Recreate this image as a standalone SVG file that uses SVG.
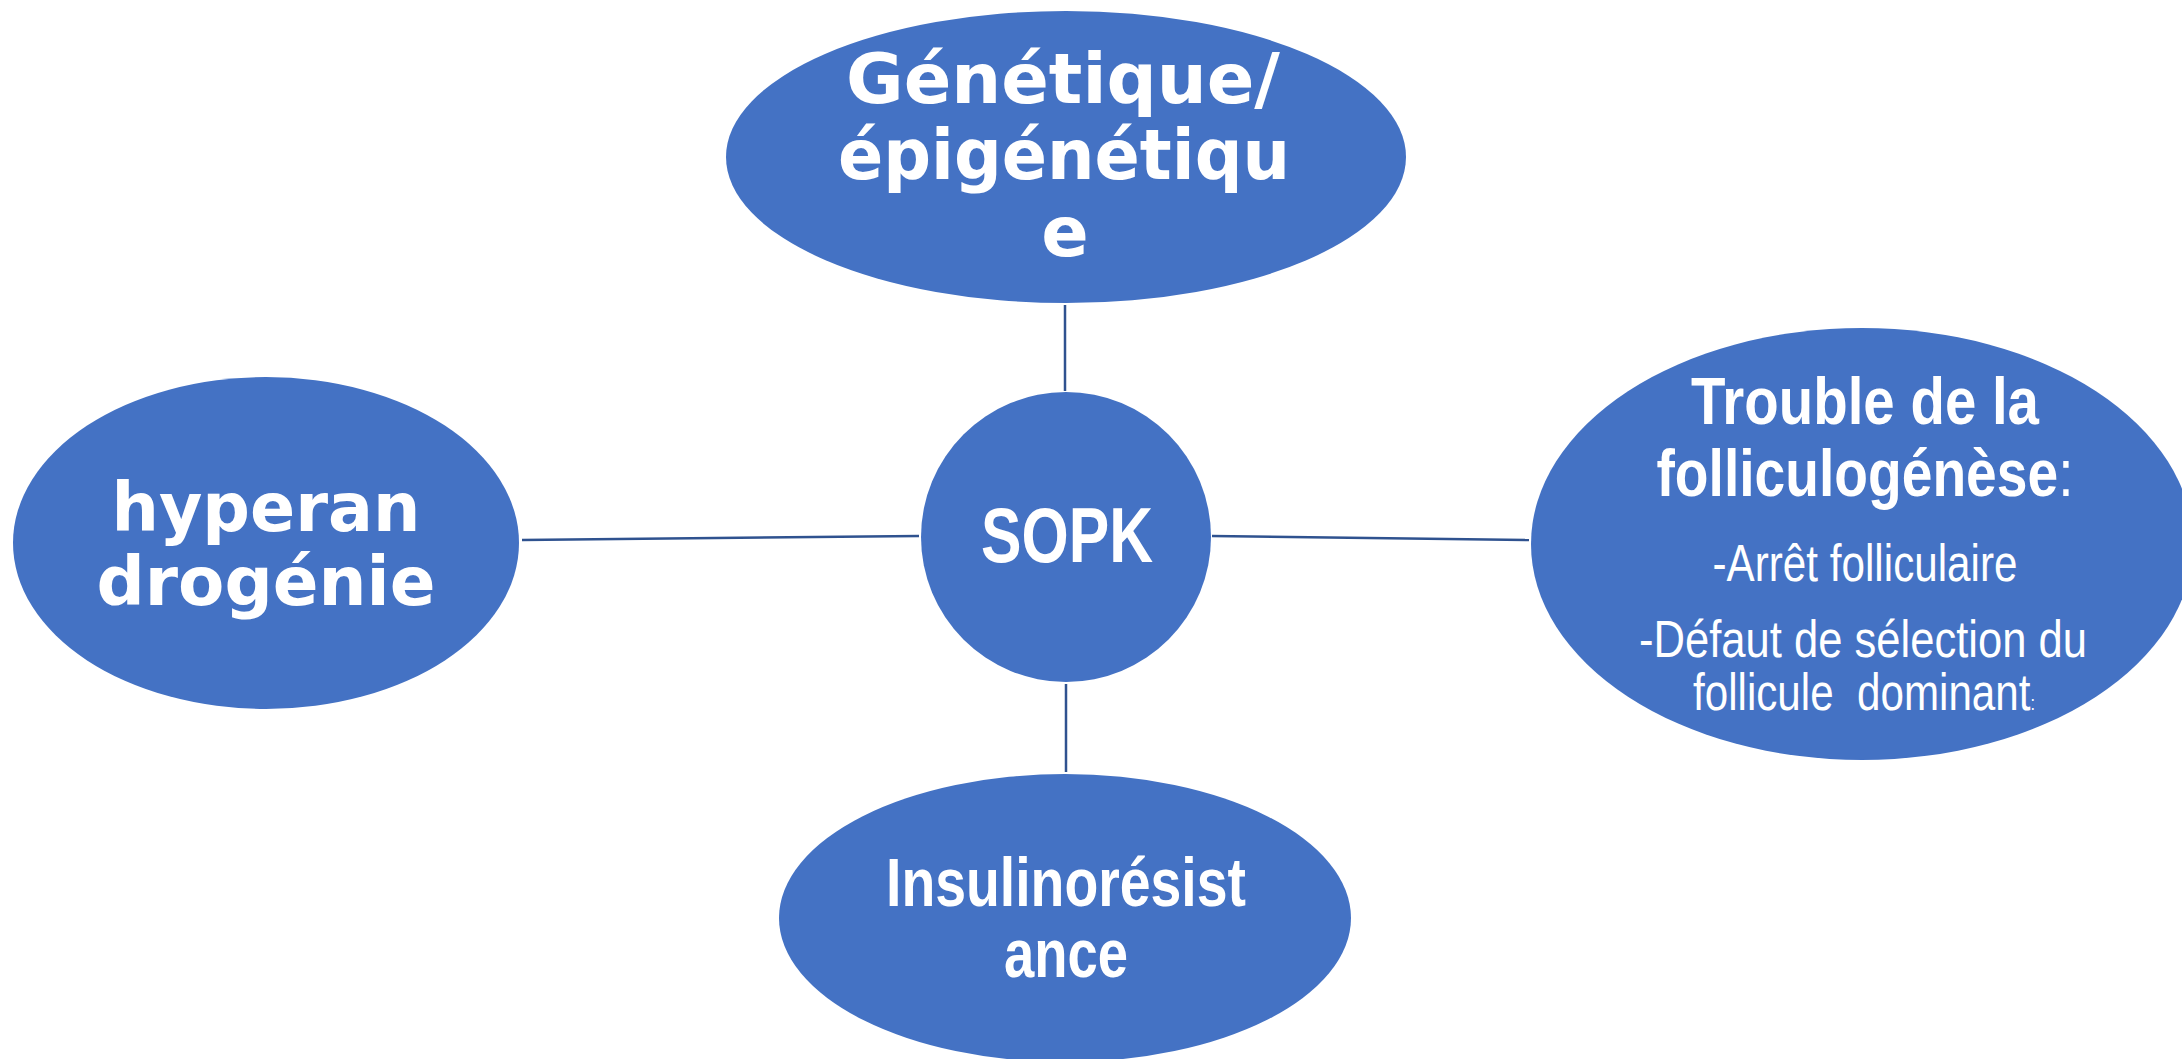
<svg xmlns="http://www.w3.org/2000/svg" width="2182" height="1059" viewBox="0 0 2182 1059">
<style>
.node{fill:#4472C4;}
.conn{stroke:#2F528F;stroke-width:2.5;fill:none;}
.v{font-family:"DejaVu Sans",Verdana,sans-serif;font-weight:bold;fill:#FFFFFF;text-anchor:middle;}
.a{font-family:"Liberation Sans",Arial,sans-serif;font-weight:bold;fill:#FFFFFF;text-anchor:middle;}
.r{font-family:"Liberation Sans",Arial,sans-serif;font-weight:normal;fill:#FFFFFF;text-anchor:middle;}
</style>
<rect x="0" y="0" width="2182" height="1059" fill="#FFFFFF"/>
<g id="connectors">
<line class="conn" x1="1065" y1="305" x2="1065" y2="391"/>
<line class="conn" x1="1066" y1="684" x2="1066" y2="772"/>
<line class="conn" x1="522" y1="540" x2="919" y2="536"/>
<line class="conn" x1="1212" y1="536" x2="1529" y2="540"/>
</g>
<g id="node-genetique">
<ellipse class="node" cx="1066" cy="157" rx="340" ry="146"/>
<text class="v" x="1063" y="103" font-size="70" textLength="434" lengthAdjust="spacingAndGlyphs">Génétique/</text>
<text class="v" x="1064" y="179" font-size="70" textLength="452" lengthAdjust="spacingAndGlyphs">épigénétiqu</text>
<text class="v" x="1065" y="256" font-size="70">e</text>
</g>
<g id="node-hyperandrogenie">
<ellipse class="node" cx="266" cy="543" rx="253" ry="166"/>
<text class="v" x="266" y="531" font-size="68" textLength="309" lengthAdjust="spacingAndGlyphs">hyperan</text>
<text class="v" x="266" y="605" font-size="68" textLength="339" lengthAdjust="spacingAndGlyphs">drogénie</text>
</g>
<g id="node-sopk">
<circle class="node" cx="1066" cy="537" r="145"/>
<text class="a" x="1067" y="562" font-size="77" textLength="172" lengthAdjust="spacingAndGlyphs">SOPK</text>
</g>
<g id="node-folliculogenese">
<ellipse class="node" cx="1862" cy="544" rx="331" ry="216"/>
<text class="a" x="1865" y="424" font-size="66" textLength="348" lengthAdjust="spacingAndGlyphs">Trouble de la</text>
<text class="a" x="1865" y="496" font-size="66" textLength="417" lengthAdjust="spacingAndGlyphs">folliculogénèse<tspan font-weight="normal">:</tspan></text>
<text class="r" x="1865" y="581" font-size="52" textLength="305" lengthAdjust="spacingAndGlyphs">-Arrêt folliculaire</text>
<text class="r" x="1863" y="657" font-size="52" textLength="448" lengthAdjust="spacingAndGlyphs">-Défaut de sélection du</text>
<text class="r" x="1864" y="710" font-size="52" xml:space="preserve" textLength="342" lengthAdjust="spacingAndGlyphs">follicule  dominant<tspan font-size="20">:</tspan></text>
</g>
<g id="node-insulinoresistance">
<ellipse class="node" cx="1065" cy="918" rx="286" ry="144"/>
<text class="a" x="1066" y="906" font-size="68" textLength="360" lengthAdjust="spacingAndGlyphs">Insulinorésist</text>
<text class="a" x="1066" y="977" font-size="68" textLength="124" lengthAdjust="spacingAndGlyphs">ance</text>
</g>
</svg>
